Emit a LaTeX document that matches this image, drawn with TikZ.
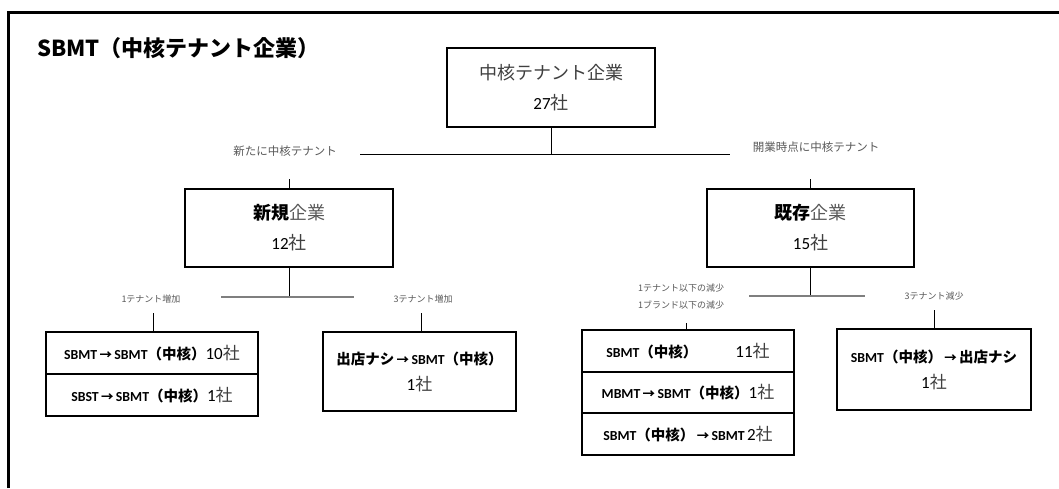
\documentclass[tikz,border=0pt]{standalone}
\usepackage{fontspec}
\setmainfont{Carlito}
\newfontfamily\jpf{Noto Sans CJK JP}
\newfontfamily\latf{Carlito}
\definecolor{tg}{HTML}{404040}
\definecolor{lg}{HTML}{595959}
\definecolor{cg}{HTML}{7F7F7F}
\newcommand\arw{\,{\jpf\bfseries\fontsize{12.5}{12}\selectfont →}\,}
\newcommand\bl[1]{{\latf\bfseries\fontsize{13.8}{16}\selectfont #1}}
\newcommand\bj[1]{{\jpf\bfseries\fontsize{14.5}{16}\selectfont #1}}
\newcommand\nm[1]{{\latf\fontsize{17}{16}\selectfont #1}}
\newcommand\sh{{\jpf\fontsize{17}{16}\selectfont\color{tg}社}}
\newcommand\bigsh{{\jpf\fontsize{18}{18}\selectfont\color{tg}社}}
\begin{document}
\begin{tikzpicture}[x=1pt,y=-1pt,
  box/.style 2 args={draw=black, line width=2pt, minimum width=#1, minimum height=#2, inner sep=0pt, align=center},
  conn/.style={draw=black, line width=1pt},
  gline/.style={draw=cg, line width=1.5pt},
  lab/.style={text=lg, inner sep=0pt, font=\jpf\fontsize{11.5}{13}\selectfont},
  slab/.style={text=lg, inner sep=0pt, align=center, font=\jpf\fontsize{9}{17}\selectfont},
  bigtxt/.style={font=\jpf\fontsize{18}{30}\selectfont},
  smtxt/.style={font=\jpf\fontsize{14}{26}\selectfont}]
\useasboundingbox (0,0) rectangle (1059,488);
\fill[white] (0,0) rectangle (1059,488);
\draw[line width=3pt] (8.5,488) -- (8.5,12.5) -- (1059,12.5);

\node[anchor=west, inner sep=0pt, font=\jpf\bfseries\fontsize{22}{22}\selectfont] (title) at (37,48) {SBMT（中核テナント企業）};

% level 0
\node[box={208}{79}, bigtxt] (top) at (551,87.5) {{\color{tg}中核テナント企業}\\{\latf\fontsize{17}{30}\selectfont 27}\bigsh};
\coordinate (j0) at (551,154);
\coordinate (h0l) at (360,154);
\coordinate (h0r) at (730,154);
\draw[conn] (top.south) -- (j0);
\draw[conn] (h0l) -- (h0r);
\node[lab] (labnew) at (285,151) {新たに中核テナント};
\node[lab] (labold) at (816,147) {開業時点に中核テナント};

% level 1
\node[box={208}{78}, bigtxt] (new) at (289,228) {{\bfseries 新規}{\color{lg}企業}\\{\latf\fontsize{17}{30}\selectfont 12}\bigsh};
\node[box={207}{78}, bigtxt] (old) at (810.5,228) {{\bfseries 既存}{\color{lg}企業}\\{\latf\fontsize{17}{30}\selectfont 15}\bigsh};
\coordinate (tk1) at (289,179);
\coordinate (tk2) at (810,179);
\draw[conn] (tk1) -- (tk1 |- new.north);
\draw[conn] (tk2) -- (tk2 |- old.north);

% new branch
\coordinate (j1) at (289,297);
\coordinate (h1l) at (221,297);
\coordinate (h1r) at (354,297);
\draw[conn] (new.south) -- (j1);
\draw[gline] (h1l) -- (h1r);
\node[slab] (lab1) at (151,299) {1テナント増加};
\node[slab] (lab2) at (423,299) {3テナント増加};

\node[box={212}{42}, smtxt] (r1) at (152,353) {\bl{SBMT}\arw\bl{SBMT}\bj{（中核）}\nm{10}\sh};
\node[box={212}{42}, smtxt] (r2) at (152,395) {\bl{SBST}\arw\bl{SBMT}\bj{（中核）}\nm{1}\sh};
\node[box={193}{79}, smtxt] (mid) at (419.5,371.5) {\bj{出店ナシ}\arw\bl{SBMT}\bj{（中核）}\\\nm{1}\sh};
\coordinate (tk3) at (153,313);
\coordinate (tk4) at (421,313);
\draw[conn] (tk3) -- (tk3 |- r1.north);
\draw[conn] (tk4) -- (tk4 |- mid.north);

% old branch
\coordinate (j2) at (810,296);
\coordinate (h2l) at (749,296);
\coordinate (h2r) at (865,296);
\draw[conn] (j2 |- old.south) -- (j2);
\draw[gline] (h2l) -- (h2r);
\node[slab] (lab3) at (681,296.5) {1テナント以下の減少\\1ブランド以下の減少};
\node[slab] (lab4) at (934,296) {3テナント減少};

\node[box={212}{42}, smtxt] (s1) at (688,351) {\bl{SBMT}\bj{（中核）}\hspace{38pt}\nm{11}\sh};
\node[box={212}{41}, smtxt] (s2) at (688,392.5) {\bl{MBMT}\arw\bl{SBMT}\bj{（中核）}\nm{1}\sh};
\node[box={212}{42}, smtxt] (s3) at (688,434) {\bl{SBMT}\bj{（中核）}\arw\bl{SBMT}\,\nm{2}\sh};
\node[box={194}{81}, smtxt] (rb) at (934,369.5) {\bl{SBMT}\bj{（中核）}\arw\bj{出店ナシ}\\\nm{1}\sh};
\coordinate (tk5) at (686,323);
\coordinate (tk6) at (934,310);
\draw[conn] (tk5) -- (tk5 |- s1.north);
\draw[conn] (tk6) -- (rb.north);
\end{tikzpicture}
\end{document}
